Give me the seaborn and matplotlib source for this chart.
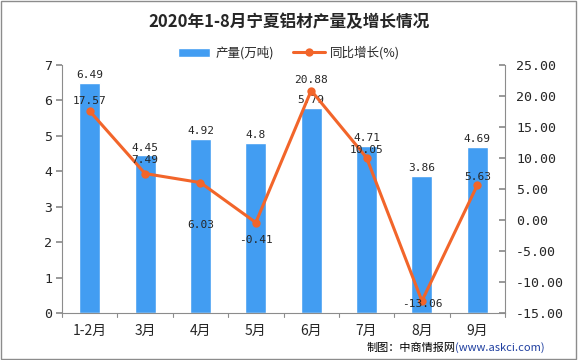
import numpy as np
import pandas as pd
import matplotlib
matplotlib.use('Agg')
import matplotlib.pyplot as plt
import seaborn as sns
from matplotlib.patches import Rectangle

months = ['1-2月', '3月', '4月', '5月', '6月', '7月', '8月', '9月']
output = [6.49, 4.45, 4.92, 4.8, 5.79, 4.71, 3.86, 4.69]
growth = [17.57, 7.49, 6.03, -0.41, 20.88, 10.05, -13.06, 5.63]

sns.set_theme(style='white')
plt.rcParams['font.family'] = ['Noto Sans CJK SC', 'DejaVu Sans']
plt.rcParams['axes.unicode_minus'] = False

bar_color = '#429DF2'
line_color = '#F2652A'

df = pd.DataFrame({'month': months, 'output': output, 'growth': growth})

fig = plt.figure(figsize=(5.78, 3.6), dpi=100)
ax = fig.add_axes([62 / 578, 47 / 360, 443 / 578, 248 / 360])

sns.barplot(data=df, x='month', y='output', color=bar_color, width=0.38,
            saturation=1, ax=ax, label='产量(万吨)')
ax.set_xlim(-0.5, len(months) - 0.5)
ax.set_ylim(0, 7)
ax.set_yticks(range(0, 8))
ax.set_xlabel('')
ax.set_ylabel('')
for i, v in enumerate(output):
    ax.text(i, v + 0.08, f'{v:g}', ha='center', va='bottom', fontsize=8,
            family=['DejaVu Sans Mono'])

ax2 = ax.twinx()
sns.lineplot(x=np.arange(len(months)), y=growth, color=line_color, lw=2.2,
             marker='o', markersize=6, markeredgewidth=0, ax=ax2,
             label='同比增长(%)')
ax2.set_ylim(-15, 25)
ax2.set_yticks(range(-15, 30, 5))
ax2.set_yticklabels([f'{t:.2f}' for t in range(-15, 30, 5)])

# label offsets in points (dy)
offs = [4, 6, -34, -16, 4, 2, -6, 2]
for i, v in enumerate(growth):
    ax2.annotate(f'{v:.2f}', (i, v), xytext=(0, offs[i]), textcoords='offset points',
                 ha='center', va='bottom', fontsize=8, family=['DejaVu Sans Mono'])

for a in (ax, ax2):
    a.spines['top'].set_visible(False)
    for s in ('left', 'right', 'bottom'):
        a.spines[s].set_color('#8c8c8c')
        a.spines[s].set_linewidth(0.8)
ax.spines['right'].set_visible(False)
ax2.spines['left'].set_visible(False)
ax2.spines['bottom'].set_visible(False)

ax.tick_params(axis='y', left=True, direction='out', length=4, color='#8c8c8c',
               labelsize=10, pad=3)
ax.tick_params(axis='x', bottom=False, labelsize=10, pad=2)
ax2.tick_params(axis='y', right=True, direction='in', length=4, color='#8c8c8c',
                labelsize=10, pad=8)
for lbl in ax.get_yticklabels() + ax2.get_yticklabels():
    lbl.set_family(['DejaVu Sans Mono'])
    lbl.set_fontsize(9.5)
# category separators on the x axis
for b in np.arange(-0.5, len(months), 1.0):
    ax.plot([b, b], [0, -0.12], color='#8c8c8c', lw=0.8, clip_on=False)

if ax.legend_:
    ax.legend_.remove()
if ax2.legend_:
    ax2.legend_.remove()
h1, l1 = ax.get_legend_handles_labels()
h2, l2 = ax2.get_legend_handles_labels()
fig.legend(h1 + h2, l1 + l2, loc='center', bbox_to_anchor=(0.5, 1 - 53 / 360),
           ncol=2, frameon=False, fontsize=9, handlelength=2.6, columnspacing=1.5,
           handletextpad=0.4)

fig.text(0.5, 1 - 22 / 360, '2020年1-8月宁夏铝材产量及增长情况', ha='center', va='center',
         fontsize=12, fontweight='bold')
url = fig.text(545 / 578, 1 - 348 / 360, '(www.askci.com)', ha='right', va='center',
               fontsize=8, color='#1f3fa0')
ax.annotate('制图：中商情报网', xy=(0, 0.5), xycoords=url, ha='right', va='center',
            fontsize=8, color='black', annotation_clip=False)

fig.patches.append(Rectangle((0.002, 0.003), 0.995, 0.994, transform=fig.transFigure,
                             fill=False, edgecolor='#8c8c8c', lw=1))

fig.savefig('out.png', dpi=100)
